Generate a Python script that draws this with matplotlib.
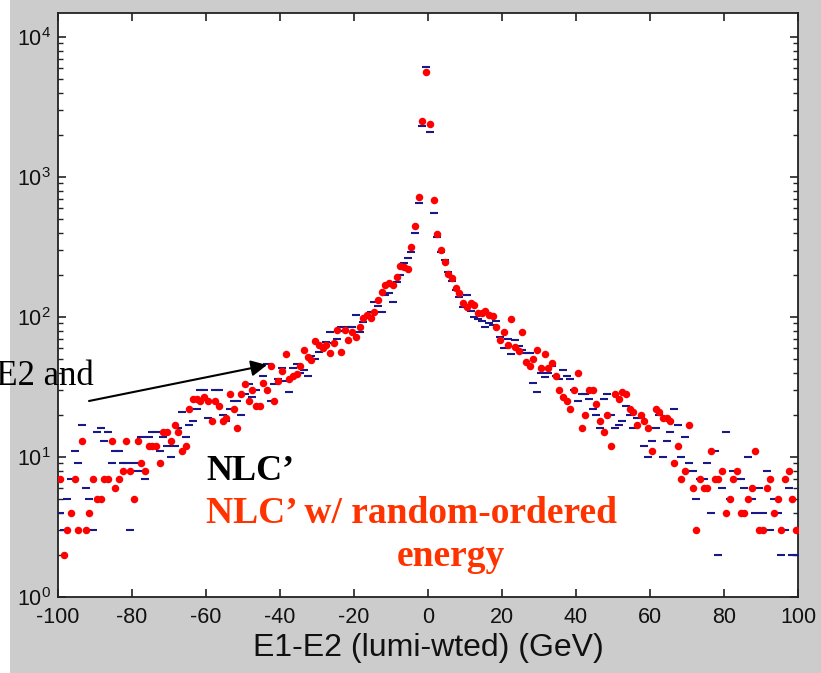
import matplotlib
matplotlib.use('Agg')
import matplotlib.pyplot as plt
import numpy as np
from matplotlib.patches import Rectangle
from matplotlib.ticker import LogLocator, NullFormatter

plt.rcParams['font.family'] = ['Liberation Sans', 'DejaVu Sans']
plt.rcParams['mathtext.fontset'] = 'custom'
plt.rcParams['mathtext.rm'] = 'Liberation Sans'
plt.rcParams['mathtext.it'] = 'Liberation Sans:italic'
plt.rcParams['mathtext.bf'] = 'Liberation Sans:bold'
plt.rcParams['axes.unicode_minus'] = False

# bin centres (1 GeV bins)
bin_centers = np.arange(-99.5, 100, 1.0)

# NLC' w/ random-ordered energy (red dots)
red = [
    7, 2, 3, 4, 7, 3, 13, 3, 4, 7,
    5, 5, 7, 7, 13, 6, 7, 8, 13, 8,
    5, 13, 9, 8, 12, 12, 12, 9, 15, 15,
    13, 17, 15, 11, 12, 22, 26, 26, 25, 27,
    25, 18, 25, 23, 18, 19, 28, 22, 16, 28,
    33, 25, 30, 23, 23, 34, 30, 45, 25, 35,
    41, 54, 36, 38, 39, 45, 58, 52, 49, 67,
    63, 60, 63, 55, 65, 81, 56, 81, 68, 78,
    72, 85, 98, 103, 98, 109, 132, 151, 169, 174,
    169, 194, 231, 226, 220, 318, 449, 720, 2500, 5600,
    2400, 690, 391, 301, 248, 203, 189, 160, 149, 126,
    118, 125, 122, 106, 107, 110, 103, 101, 85, 68,
    78, 63, 96, 61, 57, 78, 48, 45, 50, 58,
    43, 54, 43, 47, 38, 30, 27, 25, 22, 30,
    40, 16, 20, 30, 30, 24, 18, 15, 20, 12,
    28, 26, 29, 28, 22, 21, 17, 20, 18, 16,
    11, 22, 21, 19, 19, 18, 9, 12, 7, 8,
    17, 6, 3, 7, 6, 6, 11, 7, 7, 8,
    4, 5, 7, 8, 4, 4, 5, 6, 11, 3,
    3, 6, 7, 4, 5, 3, 7, 8, 5, 3]

# NLC' (blue dashes)
blue = [
    4, 3, 5, 7, 11, 9, 17, 6, 5, 3,
    15, 16, 13, 15, 9, 11, 11, 9, 9, 3,
    9, 8, 14, 7, 14, 15, 15, 11, 14, 12,
    10, 12, 16, 21, 14, 17, 18, 22, 30, 30,
    19, 25, 30, 30, 20, 18, 22, 25, 25, 20,
    28, 33, 27, 30, 45, 38, 46, 25, 33, 36,
    43, 35, 29, 43, 46, 40, 42, 38, 53, 50,
    56, 60, 66, 78, 65, 70, 85, 80, 85, 85,
    103, 78, 92, 100, 109, 129, 120, 109, 143, 149,
    129, 178, 200, 245, 265, 290, 396, 655, 2300, 6100,
    2100, 550, 375, 290, 255, 210, 180, 155, 140, 118,
    144, 110, 100, 96, 94, 85, 90, 88, 94, 72,
    60, 70, 54, 68, 62, 58, 55, 55, 34, 29,
    40, 37, 40, 45, 38, 36, 42, 38, 36, 30,
    25, 28, 28, 26, 22, 20, 16, 26, 28, 20,
    16, 17, 18, 23, 20, 16, 19, 19, 12, 10,
    13, 16, 20, 10, 13, 15, 22, 17, 10, 14,
    9, 8, 5, 7, 7, 9, 4, 11, 2, 6,
    15, 5, 8, 7, 7, 6, 10, 5, 4, 6,
    4, 8, 3, 5, 4, 2, 3, 6, 2, 2]

x_ticks = [-100, -80, -60, -40, -20, 0, 20, 40, 60, 80, 100]
x_label = 'E1-E2 (lumi-wted) (GeV)'

W, H = 821, 673
fig = plt.figure(figsize=(W / 100, H / 100), dpi=100, facecolor='white')
fig.patches.append(Rectangle((10 / W, 0), 1 - 10 / W, 1, transform=fig.transFigure,
                             facecolor='#cccccc', edgecolor='none', zorder=-10))

ax = fig.add_axes([58 / W, 1 - 597 / H, 740 / W, 584 / H])
ax.set_facecolor('white')

ax.plot(bin_centers, blue, ls='none', marker='_', ms=5.5, mew=1.5,
        color='#18188a', zorder=3)
ax.plot(bin_centers, red, ls='none', marker='o', ms=5.4, mew=0,
        color='#ff0000', zorder=4)

ax.set_yscale('log')
ax.set_xlim(-100, 100)
ax.set_ylim(1, 10 ** (584 / 140))
ax.set_xticks(x_ticks)
ax.set_xticklabels([str(t) for t in x_ticks])
ax.yaxis.set_major_locator(LogLocator(base=10, numticks=10))
ax.yaxis.set_minor_locator(LogLocator(base=10, subs=np.arange(2, 10), numticks=20))
ax.yaxis.set_minor_formatter(NullFormatter())

for sp in ax.spines.values():
    sp.set_linewidth(1.3)
    sp.set_color('#222222')

ax.tick_params(which='both', direction='in', top=True, right=True,
               color='#222222', labelcolor='#111111', labelsize=15.5)
ax.tick_params(which='major', length=6, width=1.2)
ax.tick_params(which='minor', length=3.5, width=1.0)
ax.tick_params(axis='x', pad=7)
ax.tick_params(axis='y', pad=5)

ax.set_xlabel(x_label, fontsize=23, color='#111111', labelpad=4)

serif = ['Liberation Serif', 'DejaVu Serif']
fig.text(206 / W, 1 - 480 / H, 'NLC\u2019', fontsize=26, fontweight='bold',
         family=serif, color='black', va='baseline', ha='left')
fig.text(206 / W, 1 - 523 / H, 'NLC\u2019 w/ random-ordered', fontsize=27,
         fontweight='bold', family=serif, color='#ff3300', va='baseline', ha='left')
fig.text(451 / W, 1 - 566 / H, 'energy', fontsize=27, fontweight='bold',
         family=serif, color='#ff3300', va='baseline', ha='center')

fig.text(94 / W, 1 - 385 / H, 'E1-E2 and', fontsize=25, family=serif,
         color='black', va='baseline', ha='right')

ax.annotate('', xy=(267, H - 365), xycoords='figure pixels',
            xytext=(89, H - 401), textcoords='figure pixels',
            arrowprops=dict(arrowstyle='-|>', color='black', lw=1.5,
                            mutation_scale=24, shrinkA=0, shrinkB=0),
            annotation_clip=False, zorder=10)

fig.savefig('out.png', dpi=100, facecolor=fig.get_facecolor())
